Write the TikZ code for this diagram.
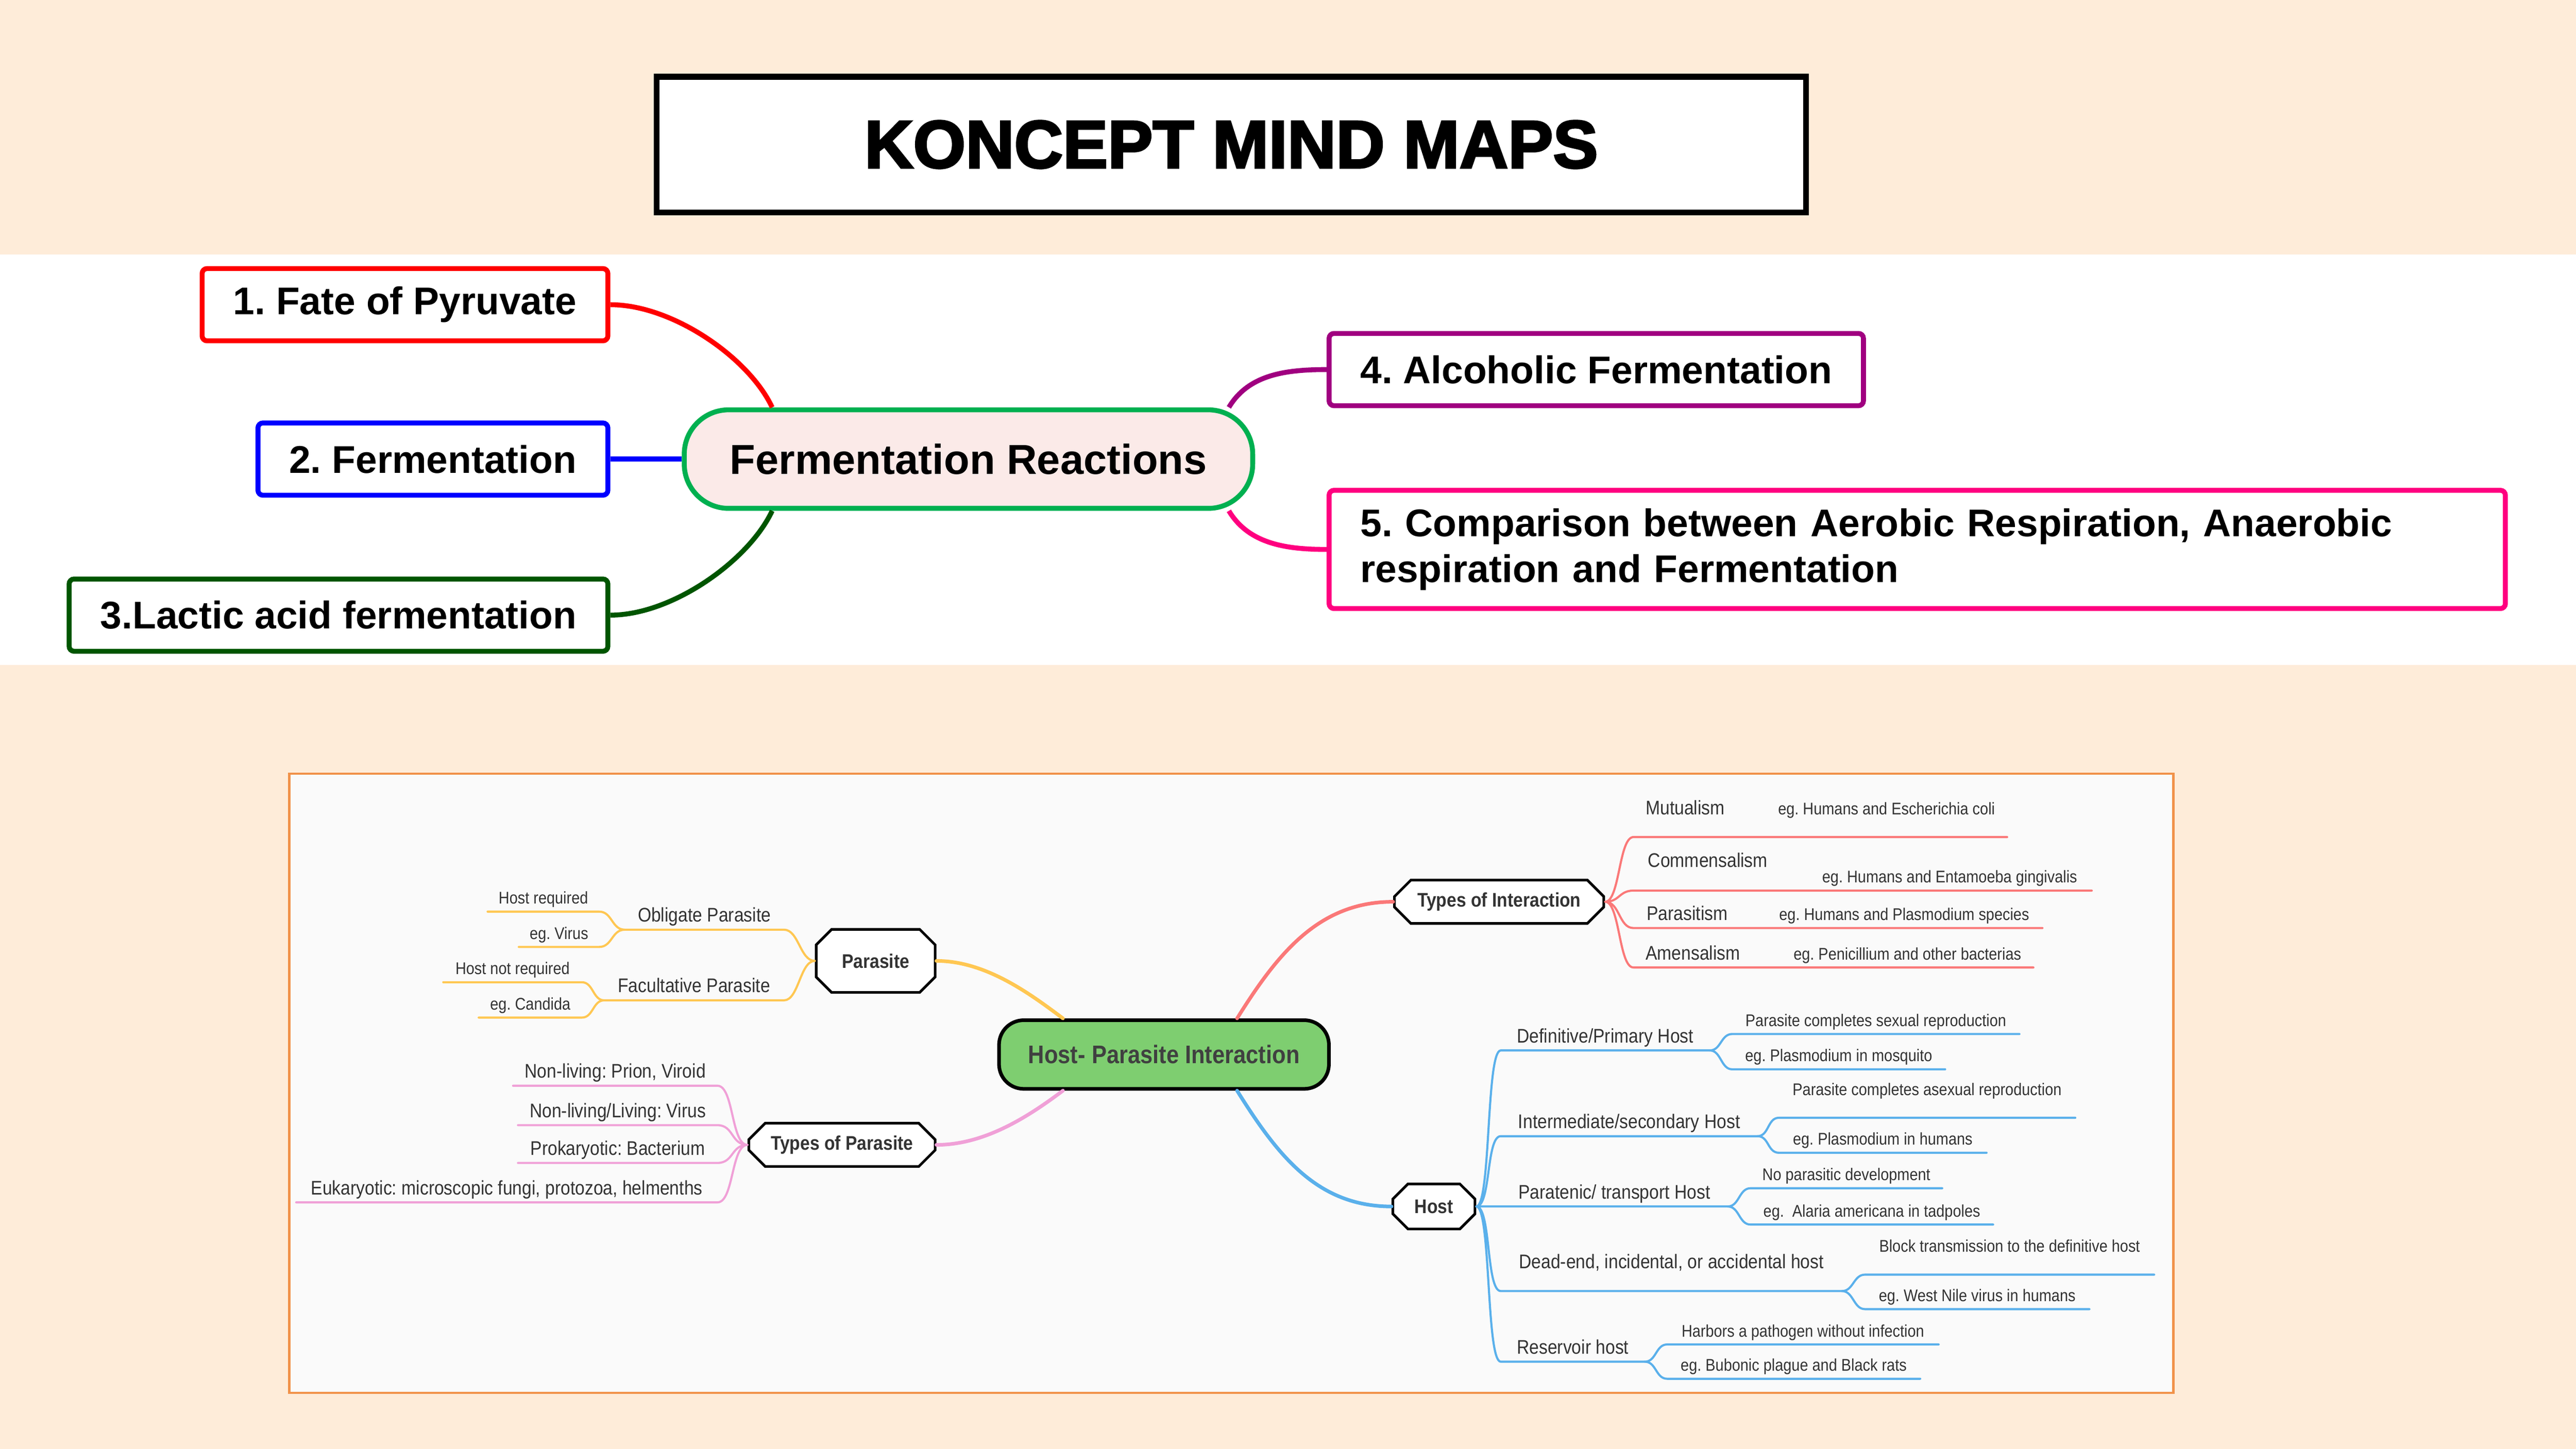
\documentclass[tikz,border=0pt]{standalone}
\usepackage{fontspec}
\setmainfont{Liberation Sans}
\newfontfamily\mapfont[FakeStretch=0.88]{Liberation Sans}
\newfontfamily\titlefont[FakeBold=3]{Liberation Sans Bold}
\newcommand{\smallf}{\mapfont\fontsize{10.3}{12}\selectfont}
\usetikzlibrary{positioning, shapes.misc}
\definecolor{peach}{RGB}{254,236,217}
\definecolor{redbox}{RGB}{255,0,0}
\definecolor{bluebox}{RGB}{0,0,255}
\definecolor{greenbox}{RGB}{0,85,0}
\definecolor{purplebox}{RGB}{160,0,128}
\definecolor{pinkbox}{RGB}{255,0,128}
\definecolor{centreline}{RGB}{0,176,80}
\definecolor{centrefill}{RGB}{251,234,232}
\definecolor{frameline}{RGB}{241,146,74}
\definecolor{framefill}{RGB}{250,250,250}
\definecolor{hpfill}{RGB}{126,206,112}
\definecolor{maptext}{RGB}{51,51,51}
\definecolor{ylw}{RGB}{255,199,82}
\definecolor{pnk}{RGB}{240,160,215}
\definecolor{sal}{RGB}{250,120,120}
\definecolor{sky}{RGB}{90,176,235}
\frenchspacing
\tikzset{
x=1pt, y=-1pt, % one unit is one pixel of the slide, y runs downwards
topbox/.style={draw=#1, line width=3pt, rounded corners=3pt, fill=white, font=\fontsize{23.5}{28}\selectfont\bfseries, inner xsep=19pt, minimum height=44pt}, % the five numbered boxes
link/.style={draw=#1, line width=3pt}, % connectors of the upper map
mapnode/.style={chamfered rectangle, chamfered rectangle xsep=5pt, chamfered rectangle ysep=5pt, draw=black, line width=1.6pt, fill=white, text=maptext, inner sep=0pt, font=\mapfont\fontsize{12}{14}\selectfont\bfseries}, % octagon boxes
leaf/.style={minimum width=#1, anchor=south, inner xsep=0pt, inner ysep=4.5pt, text depth=0pt, text=maptext, font=\mapfont\fontsize{12}{14}\selectfont}, % text sitting on its branch line
smallleaf/.style={font=\smallf}, % smaller leaf text
highleaf/.style={text depth=9pt}, % leaf text set higher above its line
branch/.style={draw=#1, line width=1.3pt, line cap=round}, % lines of the lower map
}
\begin{document}
\begin{tikzpicture}
\useasboundingbox (0,0) rectangle (1568,882);
\fill[peach] (0,0) rectangle (1568,882);
\fill[white] (0,155) rectangle (1568,405);

\node[draw, line width=3.5pt, fill=white, minimum width=699.5pt, minimum height=82.5pt, font=\titlefont\fontsize{41}{45}\selectfont] (TITLE) at (749.5,88) {KONCEPT MIND MAPS};

% upper map
\node[draw=centreline, line width=3pt, fill=centrefill, rounded corners=27pt, minimum width=346pt, minimum height=60pt, font=\fontsize{25.5}{30}\selectfont\bfseries] (FR) at (589.5,279.5) {Fermentation Reactions};
\node[topbox=redbox, anchor=east] (t1) at (371.5,185.5) {1. Fate of Pyruvate};
\node[topbox=bluebox, anchor=east] (t2) at (371.5,279.5) {2. Fermentation};
\node[topbox=greenbox, anchor=east] (t3) at (371.5,374.5) {3.Lactic acid fermentation};
\node[topbox=purplebox, anchor=west] (t4) at (807.5,225) {4. Alcoholic Fermentation};
\node[topbox=pinkbox, anchor=west, text width=678pt, align=left, minimum height=72pt] (t5) at (807.5,334.5) {5. Comparison between Aerobic Respiration, Anaerobic\\respiration and Fermentation};

\draw[link=redbox] (t1.east) .. controls +(38,0) and +(-14,-30) .. ([xshift=55pt]FR.north west);
\draw[link=bluebox] (t2.east) -- (FR.west);
\draw[link=greenbox] (t3.east) .. controls +(38,0) and +(-14,30) .. ([xshift=55pt]FR.south west);
\draw[link=purplebox] ([xshift=-16pt]FR.north east) .. controls +(12,-20) and +(-25,0) .. (t4.west);
\draw[link=pinkbox] ([xshift=-16pt]FR.south east) .. controls +(12,20) and +(-25,0) .. (t5.west);

% lower map
\draw[frameline, fill=framefill, line width=1.5pt] (176,471) rectangle (1323,848);

\node[draw=black, line width=2.2pt, fill=hpfill, rounded corners=15pt, minimum width=200.8pt, minimum height=41.8pt, text={rgb,255:red,64;green,64;blue,64}, font=\mapfont\fontsize{15.5}{18}\selectfont\bfseries] (HP) at (708.5,642) {Host- Parasite Interaction};
\node[mapnode, minimum width=72.4pt, minimum height=38.4pt] (par) at (533,585) {Parasite};
\node[mapnode, minimum width=113.4pt, minimum height=26.4pt] (tpar) at (512.5,697) {Types of Parasite};
\node[mapnode, minimum width=127.4pt, minimum height=26.4pt] (tint) at (912.5,549) {Types of Interaction};
\node[mapnode, minimum width=50pt, minimum height=27.4pt] (host) at (872.8,734.5) {Host};

\draw[branch=ylw, line width=2.2pt] (par.east) .. controls +(30,0) and +(-20,-15) .. ([xshift=40pt]HP.north west);
\draw[branch=pnk, line width=2.2pt] (tpar.east) .. controls +(30,0) and +(-20,15) .. ([xshift=40pt]HP.south west);
\draw[branch=sal, line width=2.2pt] ([xshift=-57pt]HP.north east) .. controls +(25,-40) and +(-45,0) .. (tint.west);
\draw[branch=sky, line width=2.2pt] ([xshift=-57pt]HP.south east) .. controls +(25,40) and +(-45,0) .. (host.west);

% parasite
\node[leaf=96.5pt] (ob) at (428.75,566) {Obligate Parasite};
\node[leaf=109pt] (fp) at (422.5,609) {Facultative Parasite};
\node[leaf=67.5pt, smallleaf] (hr) at (330.75,555) {Host required};
\node[leaf=48.5pt, smallleaf] (ev) at (340.25,576.5) {eg. Virus};
\node[leaf=84pt, smallleaf] (hn) at (312,598) {Host not required};
\node[leaf=62.4pt, smallleaf] (ec) at (322.8,619.5) {eg. Candida};
\draw[branch=ylw] (par.west) .. controls +(-9,0) and +(9,0) .. (ob.south east) -- (ob.south west)
                  (par.west) .. controls +(-9,0) and +(9,0) .. (fp.south east) -- (fp.south west)
                  (ob.south west) .. controls +(-8,0) and +(8,0) .. (hr.south east) -- (hr.south west)
                  (ob.south west) .. controls +(-8,0) and +(8,0) .. (ev.south east) -- (ev.south west)
                  (fp.south west) .. controls +(-7,0) and +(7,0) .. (hn.south east) -- (hn.south west)
                  (fp.south west) .. controls +(-7,0) and +(7,0) .. (ec.south east) -- (ec.south west);

% types of parasite
\node[leaf=124pt] (nl) at (374.5,661) {Non-living: Prion, Viroid};
\node[leaf=121pt] (nv) at (376,685) {Non-living/Living: Virus};
\node[leaf=121pt] (pk) at (376,708) {Prokaryotic: Bacterium};
\node[leaf=256pt] (eu) at (308.5,732) {Eukaryotic: microscopic fungi, protozoa, helmenths};
\draw[branch=pnk] (tpar.west) .. controls +(-10,0) and +(10,0) .. (nl.south east) -- (nl.south west)
                  (tpar.west) .. controls +(-10,0) and +(10,0) .. (nv.south east) -- (nv.south west)
                  (tpar.west) .. controls +(-10,0) and +(10,0) .. (pk.south east) -- (pk.south west)
                  (tpar.west) .. controls +(-10,0) and +(10,0) .. (eu.south east) -- (eu.south west);

% types of interaction
\node[leaf=227pt, highleaf] (mu) at (1108,509.6) {\makebox[80.6pt][l]{Mutualism}{\smallf eg. Humans and Escherichia coli}};
\node[leaf=278.5pt, align=left, font=\mapfont\fontsize{12}{9.5}\selectfont] (co) at (1133.75,542.2) {Commensalism\\\hspace*{106pt}{\smallf eg. Humans and Entamoeba gingivalis}};
\node[leaf=248.5pt] (pa) at (1118.75,565) {\makebox[80.6pt][l]{Parasitism}{\smallf eg. Humans and Plasmodium species}};
\node[leaf=243pt] (am) at (1116,589) {\makebox[90pt][l]{Amensalism}{\smallf eg. Penicillium and other bacterias}};
\draw[branch=sal] (tint.east) .. controls +(9,0) and +(-9,0) .. (mu.south west) -- (mu.south east)
                  (tint.east) .. controls +(9,0) and +(-9,0) .. (co.south west) -- (co.south east)
                  (tint.east) .. controls +(9,0) and +(-9,0) .. (pa.south west) -- (pa.south east)
                  (tint.east) .. controls +(9,0) and +(-9,0) .. (am.south west) -- (am.south east);

% host
\node[leaf=126.8pt] (dp) at (977.1,639.5) {Definitive/Primary Host};
\node[leaf=155.9pt] (ih) at (991.65,691.7) {Intermediate/secondary Host};
\node[leaf=137.8pt] (ph) at (982.6,734.5) {Paratenic/ transport Host};
\node[leaf=207.3pt, highleaf] (dh) at (1017.35,786) {Dead-end, incidental, or accidental host};
\node[leaf=87.3pt] (rh) at (957.35,829) {Reservoir host};
\draw[branch=sky] (host.east) .. controls +(9,0) and +(-9,0) .. (dp.south west) -- (dp.south east)
                  (host.east) .. controls +(9,0) and +(-9,0) .. (ih.south west) -- (ih.south east)
                  (host.east) -- (ph.south east)
                  (host.east) .. controls +(9,0) and +(-9,0) .. (dh.south west) -- (dh.south east)
                  (host.east) .. controls +(9,0) and +(-9,0) .. (rh.south west) -- (rh.south east);

\node[leaf=174.4pt, smallleaf] (sx) at (1141.8,629.5) {Parasite completes sexual reproduction};
\node[leaf=129.2pt, smallleaf] (pm) at (1119.2,651) {eg. Plasmodium in mosquito};
\node[leaf=180pt, smallleaf, highleaf] (ax) at (1173,680.5) {Parasite completes asexual reproduction};
\node[leaf=126pt, smallleaf] (pu) at (1146,701.8) {eg. Plasmodium in humans};
\node[leaf=116.3pt, smallleaf] (nd) at (1123.85,723.4) {No parasitic development};
\node[leaf=147.3pt, smallleaf] (aa) at (1139.35,745.5) {eg.\ \ Alaria americana in tadpoles};
\node[leaf=175.6pt, smallleaf, highleaf] (bt) at (1223.2,776) {Block transmission to the definitive host};
\node[leaf=136.2pt, smallleaf] (wn) at (1203.5,797) {eg. West Nile virus in humans};
\node[leaf=164.8pt, smallleaf] (hb) at (1097.4,818.5) {Harbors a pathogen without infection};
\node[leaf=153.6pt, smallleaf] (bp) at (1091.8,839.4) {eg. Bubonic plague and Black rats};
\draw[branch=sky] (dp.south east) .. controls +(7,0) and +(-7,0) .. (sx.south west) -- (sx.south east)
                  (dp.south east) .. controls +(7,0) and +(-7,0) .. (pm.south west) -- (pm.south east)
                  (ih.south east) .. controls +(7,0) and +(-7,0) .. (ax.south west) -- (ax.south east)
                  (ih.south east) .. controls +(7,0) and +(-7,0) .. (pu.south west) -- (pu.south east)
                  (ph.south east) .. controls +(7,0) and +(-7,0) .. (nd.south west) -- (nd.south east)
                  (ph.south east) .. controls +(7,0) and +(-7,0) .. (aa.south west) -- (aa.south east)
                  (dh.south east) .. controls +(7,0) and +(-7,0) .. (bt.south west) -- (bt.south east)
                  (dh.south east) .. controls +(7,0) and +(-7,0) .. (wn.south west) -- (wn.south east)
                  (rh.south east) .. controls +(7,0) and +(-7,0) .. (hb.south west) -- (hb.south east)
                  (rh.south east) .. controls +(7,0) and +(-7,0) .. (bp.south west) -- (bp.south east);
\end{tikzpicture}
\end{document}
